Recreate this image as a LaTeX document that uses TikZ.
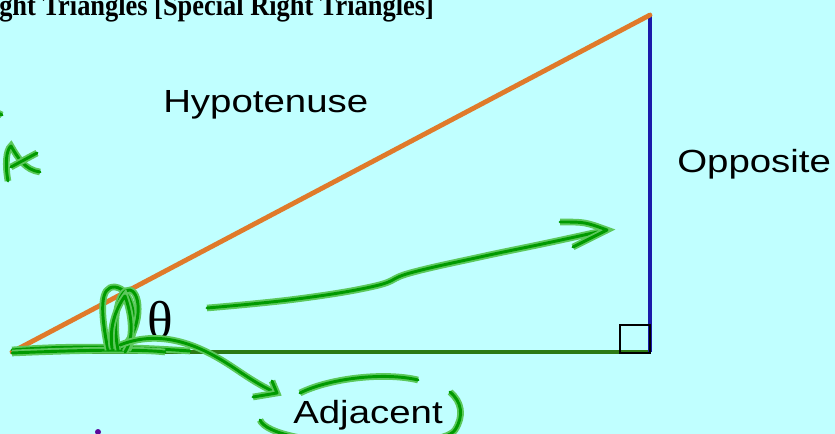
\documentclass[tikz,border=0pt]{standalone}
\usepackage{fontspec}
\setmainfont{Liberation Serif}
\newfontfamily\labelfont[FakeStretch=1.2]{Liberation Sans}
\newfontfamily\titlefont[FakeStretch=0.88]{Liberation Serif}
\usepackage{xcolor}
\usepackage{tikz}

\definecolor{bgcyan}{HTML}{C0FFFF}
\definecolor{hypcolor}{HTML}{E07A2A}
\definecolor{oppcolor}{HTML}{1A1AAA}
\definecolor{adjcolor}{HTML}{2C7A14}
\definecolor{inkcore}{HTML}{009A00}
\definecolor{inkhalo}{HTML}{5CC85C}
\definecolor{dotpurple}{HTML}{5A0A9A}

\begin{document}
\begin{tikzpicture}[x=0.75pt, y=-0.75pt,
        sidelabel/.style={inner sep=0pt, anchor=base west, font=\labelfont\fontsize{24}{28}\selectfont},
        ink/.style={draw=inkcore, line width=2.2pt, line cap=round, line join=round,
            preaction={draw=inkhalo, line width=5pt}}]
        \useasboundingbox (0,0) rectangle (835,434);
        \clip (0,0) rectangle (835,434);
        \fill[bgcyan] (0,0) rectangle (835,434);

        \node[anchor=base west, inner sep=0pt, font=\titlefont\bfseries\fontsize{22.5}{26}\selectfont] (title) at (-1,16) {ght Triangles [Special Right Triangles]};

        % the triangle
        \coordinate (A) at (12,352);
        \coordinate (B) at (650,352);
        \coordinate (C) at (650,15);
        \draw[adjcolor, line width=3pt] (A) -- (B);
        \draw[oppcolor, line width=2.8pt] (B) -- (C);
        \draw[hypcolor, line width=3.6pt, line cap=round] (A) -- (C);
        \draw[black, line width=2.2pt] (B) ++(-30,1) rectangle ++(30,-28);

        \node[sidelabel] (hyp) at (163,113) {Hypotenuse};
        \node[sidelabel] (opp) at (677,173) {Opposite};
        \node[sidelabel] (adj) at (293,423) {Adjacent};
        \node[inner sep=0pt, anchor=base west, font=\fontsize{40}{44}\selectfont] (theta) at (147,339) {θ};

        % handwriting
        \draw[ink] (-2,113) -- (2,115);
        \draw[ink] (8,181) .. controls (5,165) and (6,150) .. (11,146) .. controls (18,158) and (25,170) .. (40,172);
        \draw[ink] (11,167) -- (37,153);

        \draw[ink] (12,350) .. controls (60,346) and (120,346) .. (190,351);
        \draw[ink] (12,353) .. controls (80,350) and (140,349) .. (165,352);
        \draw[ink] (108,350) .. controls (100,310) and (100,286) .. (115,287) .. controls (132,289) and (140,320) .. (128,350);
        \draw[ink] (118,350) .. controls (112,320) and (118,288) .. (130,290) .. controls (142,293) and (142,330) .. (122,348);
        \draw[ink] (112,348) .. controls (108,320) and (122,300) .. (125,296) .. controls (130,310) and (136,335) .. (125,352);
        \draw[ink] (120,345) .. controls (170,325) and (215,355) .. (240,372) .. controls (255,382) and (265,388) .. (277,393);
        \draw[ink] (272,381) -- (277,393) -- (253,397);

        \draw[ink] plot[smooth, tension=0.7] coordinates {(207,308) (297,299) (375,286) (410,273) (480,257) (547,243) (607,230)};
        \draw[ink] (560,222) .. controls (585,222) .. (607,230) -- (573,247);

        \draw[ink] (300,393) .. controls (330,378) and (385,372) .. (418,380);
        \draw[ink] (260,420) .. controls (272,448) and (440,452) .. (455,430) .. controls (464,416) and (462,402) .. (450,392);

        \fill[dotpurple] (98,432) circle (3);
    \end{tikzpicture}
\end{document}
